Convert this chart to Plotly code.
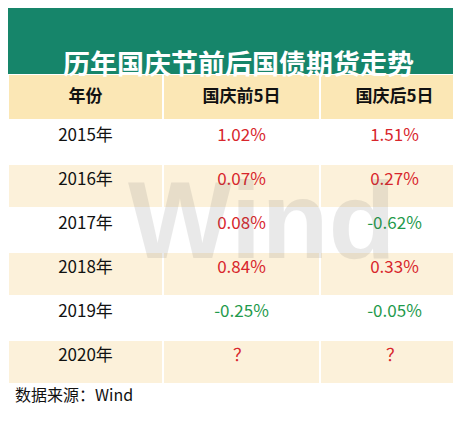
import plotly.graph_objects as go

years = ["2015年", "2016年", "2017年", "2018年", "2019年", "2020年"]
before = ["1.02%", "0.07%", "0.08%", "0.84%", "-0.25%", "？"]
after = ["1.51%", "0.27%", "-0.62%", "0.33%", "-0.05%", "？"]
headers = ["年份", "国庆前5日", "国庆后5日"]

W, H = 461, 422
RED, GREEN = "#d8262c", "#1f9a4c"


def colour(v):
    return GREEN if v.startswith("-") else RED


row_fill = ["#ffffff" if i % 2 == 0 else "#fcf1da" for i in range(len(years))]

fig = go.Figure(go.Table(
    domain=dict(x=[0, 1], y=[44 / H, 1 - 66 / H]),
    columnwidth=[155, 157, 149],
    header=dict(
        values=[f"<b>{h}</b>" for h in headers],
        fill_color="#fbe7b5",
        line=dict(color="white", width=2),
        font=dict(family="Noto Sans CJK SC", size=17, color="#111111"),
        height=46,
    ),
    cells=dict(
        values=[years, before, after],
        fill_color=[row_fill] * 3,
        line=dict(color="white", width=2),
        font=dict(family="Noto Sans CJK SC", size=17,
                  color=[["#111111"] * len(years),
                         [colour(v) for v in before],
                         [colour(v) for v in after]]),
        height=44,
    ),
))

fig.add_shape(type="rect", xref="paper", yref="paper", x0=0, x1=1,
              y0=1 - 66 / H, y1=1, fillcolor="#16856a", line_width=0)
fig.add_annotation(text="<b>历年国庆节前后国债期货走势</b>", xref="paper", yref="paper",
                   x=0.5, y=1 - 33 / H, showarrow=False,
                   font=dict(family="Noto Sans CJK SC", size=27, color="white"))
fig.add_annotation(text="数据来源：Wind", xref="paper", yref="paper",
                   x=0.01, y=22 / H, xanchor="left", showarrow=False,
                   font=dict(family="Noto Sans CJK SC", size=16, color="#111111"))
fig.add_annotation(text="<b>Wind</b>", xref="paper", yref="paper",
                   x=0.55, y=0.5, showarrow=False, opacity=0.12,
                   font=dict(family="Liberation Sans", size=110, color="#555555"))

fig.update_layout(width=W, height=H, margin=dict(l=0, r=0, t=0, b=0),
                  paper_bgcolor="white")
fig.write_html("out.html")
